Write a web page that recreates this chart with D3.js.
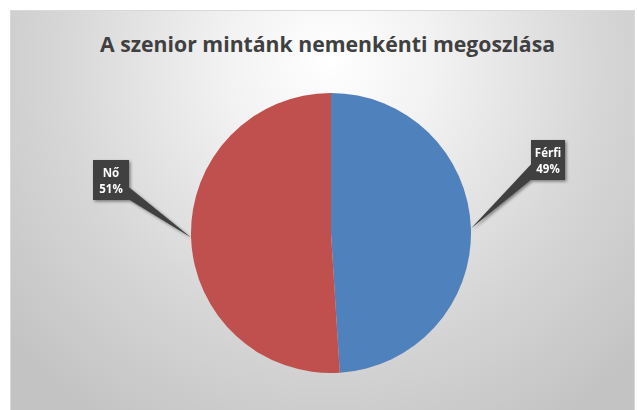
<!DOCTYPE html>
<html>
<head>
<meta charset="utf-8">
<script src="https://cdn.jsdelivr.net/npm/d3@7"></script>
<style>
  body { margin: 0; background: #fff; }
  svg { display: block; }
</style>
</head>
<body>
<div id="chart"></div>
<script>
var categories = ["Férfi", "Nő"];
var values = [49, 51];
var colors = ["#4f81bd", "#c0504d"];
var title = "A szenior mintánk nemenkénti megoszlása";

var W = 637, H = 410,
  cx = 331, cy = 233, r = 140;

// label box offsets from pie centre (placed by hand in the original)
var labelOffsets = [[217, -73], [-220, -53]];

var svg = d3.select("#chart").append("svg")
  .attr("width", W)
  .attr("height", H);

var defs = svg.append("defs");

var grad = defs.append("radialGradient")
  .attr("id", "bg")
  .attr("gradientUnits", "userSpaceOnUse")
  .attr("cx", 330).attr("cy", 70).attr("r", 420)
  .attr("fx", 330).attr("fy", 60);
grad.append("stop").attr("offset", "0%").attr("stop-color", "#ffffff");
grad.append("stop").attr("offset", "25%").attr("stop-color", "#f2f2f2");
grad.append("stop").attr("offset", "65%").attr("stop-color", "#d6d6d6");
grad.append("stop").attr("offset", "100%").attr("stop-color", "#c3c3c3");

var shadow = defs.append("filter")
  .attr("id", "shadow")
  .attr("x", "-30%").attr("y", "-30%")
  .attr("width", "160%").attr("height", "160%");
shadow.append("feDropShadow")
  .attr("dx", 1.5).attr("dy", 1.5)
  .attr("stdDeviation", 1.5)
  .attr("flood-color", "#000")
  .attr("flood-opacity", 0.45);

svg.append("rect")
  .attr("x", 10.5).attr("y", 10.5)
  .attr("width", 624).attr("height", 410)
  .attr("fill", "url(#bg)")
  .attr("stroke", "#d9d9d9");

svg.append("text")
  .attr("x", 327.5)
  .attr("y", 52)
  .attr("text-anchor", "middle")
  .attr("textLength", 455)
  .attr("lengthAdjust", "spacingAndGlyphs")
  .style("font-family", "'Open Sans', 'Liberation Sans', sans-serif")
  .style("font-weight", "bold")
  .style("font-size", "21px")
  .style("fill", "#404040")
  .text(title);

var pie = d3.pie().sort(null).value(function(d) { return d; });
var arc = d3.arc().innerRadius(0).outerRadius(r);

var arcs = pie(values);

var g = svg.append("g")
  .attr("transform", "translate(" + cx + "," + cy + ")");

g.selectAll("path.slice")
  .data(arcs)
  .enter().append("path")
  .attr("class", "slice")
  .attr("d", arc)
  .attr("fill", function(d, i) { return colors[i]; });

var total = d3.sum(values);

arcs.forEach(function(d, i) {
  var mid = (d.startAngle + d.endAngle) / 2,
    tx = Math.sin(mid) * r,
    ty = -Math.cos(mid) * r,
    off = labelOffsets[i],
    lines = [categories[i], Math.round(d.value / total * 100) + "%"];

  var lg = g.append("g").attr("filter", "url(#shadow)");

  var bw = i === 0 ? 34 : 36, bh = 40;
  var bx = off[0] - bw / 2, by = off[1] - bh / 2;

  // callout wedge from box edge to slice edge
  var nearX = off[0] > 0 ? bx + 1 : bx + bw - 1;
  var t0 = off[0] > 0 ? 0.58 : 0.66;
  lg.append("path")
    .attr("d", "M" + nearX + "," + (by + bh * t0) +
      "L" + tx + "," + ty +
      "L" + nearX + "," + (by + bh - 1) + "Z")
    .attr("fill", "#404040");

  lg.append("rect")
    .attr("x", bx).attr("y", by)
    .attr("width", bw).attr("height", bh)
    .attr("fill", "#404040");

  lg.selectAll("text")
    .data(lines)
    .enter().append("text")
    .attr("x", off[0])
    .attr("y", function(t, j) { return by + 17 + j * 16; })
    .attr("text-anchor", "middle")
    .style("font-family", "'Open Sans', 'Liberation Sans', sans-serif")
    .style("font-weight", "bold")
    .style("font-size", "11.5px")
    .style("fill", "#ffffff")
    .text(function(t) { return t; });
});
</script>
</body>
</html>
